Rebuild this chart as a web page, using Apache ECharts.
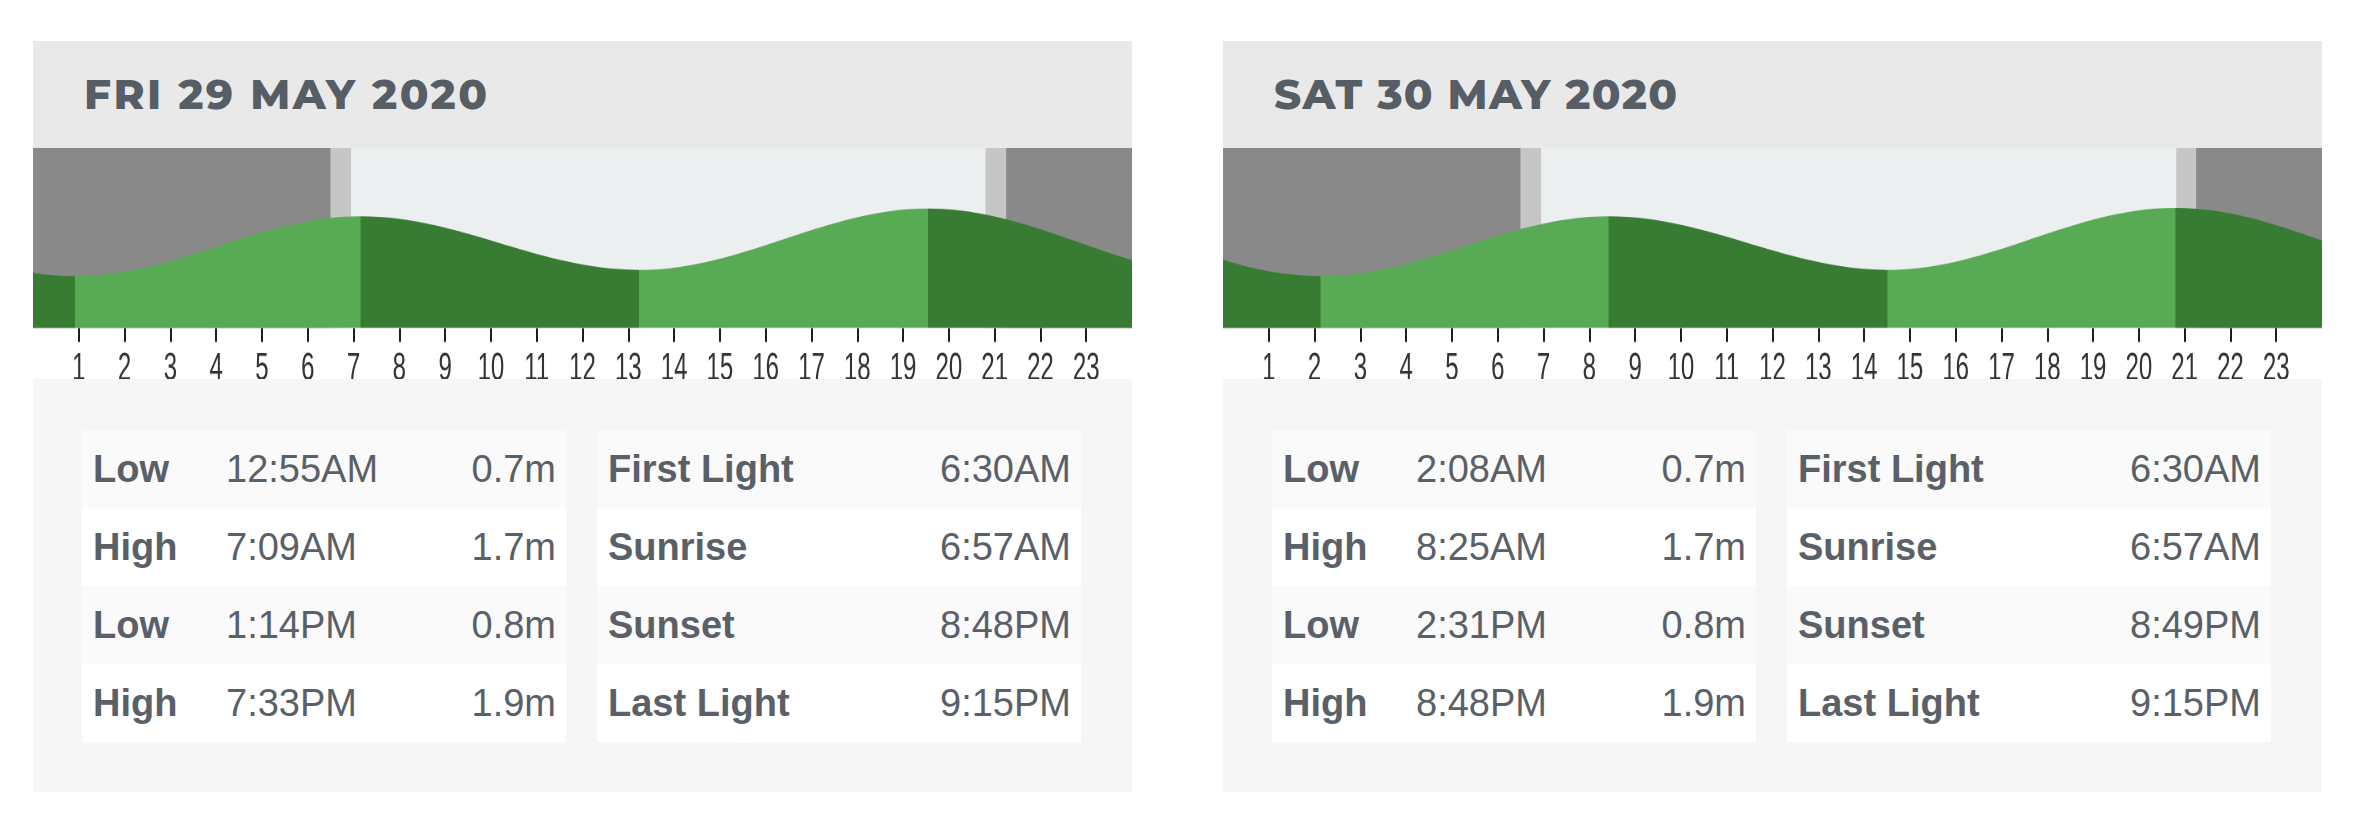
<!DOCTYPE html>
<html lang="en">
<head>
<meta charset="UTF-8">
<title>Tide times</title>
<script src="https://cdn.jsdelivr.net/npm/echarts@6/dist/echarts.min.js"></script>
<style>
  body { margin: 0; width: 2364px; height: 834px; background: #fff; position: relative;
         font-family: 'Liberation Sans', Arial, sans-serif; color: #5a6068; }
  .panel { position: absolute; top: 41px; width: 1099px; }
  .head { height: 107px; background: #e9e9e9; position: relative; }
  .head span { position: absolute; left: 51px; top: 32px; white-space: nowrap; line-height: 42px;
               font-family: Montserrat, Inter, 'Open Sans', sans-serif; font-weight: 800; font-size: 42px; color: #575d64; }
  .strip { height: 231px; background: #fff; overflow: hidden; }
  .chart { width: 1099px; height: 141px; transform: scaleY(1.64); transform-origin: 0 0; }
  .info { height: 413px; background: #f6f6f6; box-sizing: border-box; padding: 51px 0 0 49px; }
  table { border-collapse: collapse; width: 484px; float: left; font-size: 38px; }
  table.sun { margin-left: 31px; }
  td { height: 78px; padding: 0; vertical-align: middle; white-space: nowrap; }
  tr:nth-child(odd) td { background: #fafafa; }
  tr:nth-child(even) td { background: #fff; }
  td.lab { font-weight: bold; padding-left: 11px; }
  .tides td.lab { width: 133px; }
  td.ht, .sun td.tm { text-align: right; padding-right: 10px; }
</style>
</head>
<body>
<script type="text/javascript">
  var dayTitles = ['FRI 29 MAY 2020', 'SAT 30 MAY 2020'];

  var tideTimes = [
    ['11:50AM', '6:24PM'],
    ['12:55AM', '7:09AM', '1:14PM', '7:33PM'],
    ['2:08AM', '8:25AM', '2:31PM', '8:48PM'],
    ['3:21AM', '9:36AM']
  ];
  var tideHeights = [
    [0.78, 1.85],
    [0.69, 1.74, 0.80, 1.88],
    [0.69, 1.74, 0.80, 1.89],
    [0.70, 1.75]
  ];
  var tideKinds = [
    ['Low', 'High'],
    ['Low', 'High', 'Low', 'High'],
    ['Low', 'High', 'Low', 'High'],
    ['Low', 'High']
  ];

  var firstLight = ['6:30AM', '6:30AM'];
  var sunrise = ['6:57AM', '6:57AM'];
  var sunset = ['8:48PM', '8:49PM'];
  var lastLight = ['9:15PM', '9:15PM'];

  var hourTicks = [1, 2, 3, 4, 5, 6, 7, 8, 9, 10, 11, 12, 13, 14, 15, 16, 17, 18, 19, 20, 21, 22, 23];

  var panelLeft = [33, 1223];
  var yMin = -0.22, yMax = 2.94;
  var colNight = '#898989', colTwilight = '#c6c6c6', colDay = '#eceff0';
  var colRising = '#58ab54', colFalling = '#387c33';

  function toHours(s) {
    var m = s.match(/(\d+):(\d+)(AM|PM)/);
    return (+m[1] % 12) + (m[3] === 'PM' ? 12 : 0) + (+m[2]) / 60;
  }

  dayTitles.forEach(function (title, p) {
    var d = p + 1;
    var panel = document.createElement('div');
    panel.className = 'panel';
    panel.style.left = panelLeft[p] + 'px';

    var tideRows = tideKinds[d].map(function (k, i) {
      return '<tr><td class="lab">' + k + '</td><td class="tm">' + tideTimes[d][i] +
        '</td><td class="ht">' + tideHeights[d][i].toFixed(1) + 'm</td></tr>';
    }).join('');
    var sunRows = [['First Light', firstLight[p]], ['Sunrise', sunrise[p]],
                   ['Sunset', sunset[p]], ['Last Light', lastLight[p]]].map(function (r) {
      return '<tr><td class="lab">' + r[0] + '</td><td class="tm">' + r[1] + '</td></tr>';
    }).join('');

    panel.innerHTML = '<div class="head"><span>' + title + '</span></div>' +
      '<div class="strip"><div class="chart"></div></div>' +
      '<div class="info"><table class="tides">' + tideRows + '</table><table class="sun">' + sunRows + '</table></div>';
    document.body.appendChild(panel);

    // stretch the title to the width it has in the header
    var span = panel.querySelector('.head span');
    var w0 = span.getBoundingClientRect().width;
    span.style.letterSpacing = ((403 - w0) / (title.length - 1)) + 'px';

    // tide points in hours from this day's midnight
    var pts = [];
    tideTimes.forEach(function (times, dd) {
      times.forEach(function (t, i) {
        pts.push([toHours(t) + (dd - d) * 24, tideHeights[dd][i]]);
      });
    });
    var pieces = [];
    for (var i = 0; i + 1 < pts.length; i++) {
      pieces.push({gte: pts[i][0], lt: pts[i + 1][0],
                   color: pts[i + 1][1] > pts[i][1] ? colRising : colFalling});
    }

    var fl = toHours(firstLight[p]), sr = toHours(sunrise[p]);
    var ss = toHours(sunset[p]), ll = toHours(lastLight[p]);
    var bands = [
      {value: [0, fl], itemStyle: {color: colNight}},
      {value: [fl, sr], itemStyle: {color: colTwilight}},
      {value: [sr, ss], itemStyle: {color: colDay}},
      {value: [ss, ll], itemStyle: {color: colTwilight}},
      {value: [ll, 24], itemStyle: {color: colNight}}
    ];

    var chart = echarts.init(panel.querySelector('.chart'), null, {devicePixelRatio: 2});
    chart.setOption({
      animation: false,
      grid: {left: 0, right: 0, top: 0, height: 109.76, containLabel: false, outerBoundsMode: 'none'},
      xAxis: {
        type: 'value', min: 0, max: 24, interval: 1,
        axisLine: {show: false, onZero: false},
        splitLine: {show: false},
        axisTick: {show: true, customValues: hourTicks, length: 8.5,
                   lineStyle: {color: '#1e1e1e', width: 2}},
        axisLabel: {customValues: hourTicks, margin: 13, fontSize: 24, color: '#333',
                    fontFamily: 'Liberation Sans, Arial, sans-serif'}
      },
      yAxis: {type: 'value', min: yMin, max: yMax, show: false},
      visualMap: {type: 'piecewise', show: false, dimension: 0, seriesIndex: 1, pieces: pieces},
      series: [
        {
          type: 'custom',
          z: 1,
          data: bands,
          renderItem: function (params, api) {
            var a = api.coord([api.value(0), yMax]);
            var b = api.coord([api.value(1), yMin]);
            return {type: 'rect', shape: {x: a[0], y: a[1], width: b[0] - a[0], height: b[1] - a[1]},
                    style: {fill: api.visual('color')}};
          }
        },
        {
          type: 'line',
          z: 3,
          data: pts,
          smooth: 0.36,
          smoothMonotone: 'x',
          showSymbol: false,
          lineStyle: {width: 0},
          areaStyle: {opacity: 1, origin: 'start'}
        }
      ]
    });
  });
</script>
</body>
</html>
